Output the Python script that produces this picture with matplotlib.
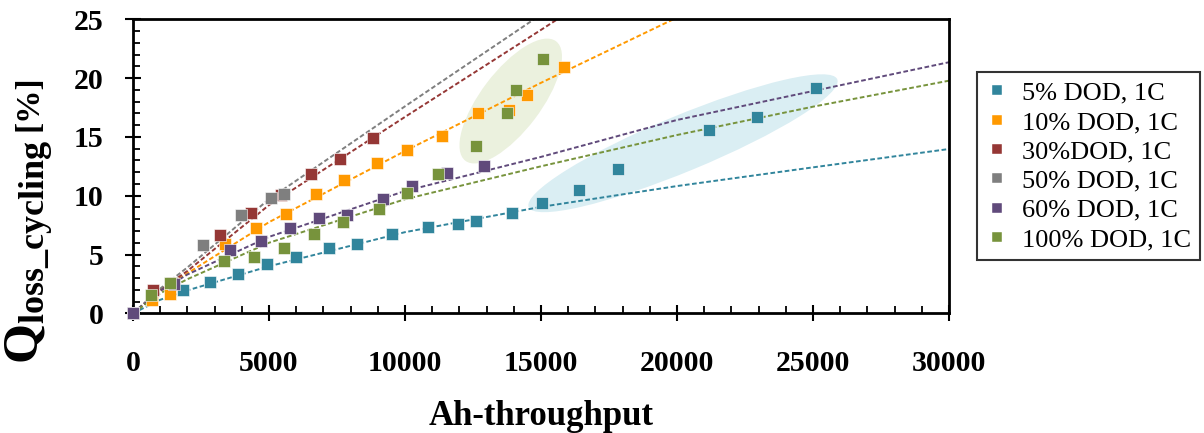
import matplotlib
matplotlib.use('Agg')
import matplotlib.pyplot as plt
from matplotlib.patches import Ellipse
from matplotlib.lines import Line2D
import matplotlib.transforms as mtrans

plt.rcParams['font.family'] = ['Liberation Serif', 'DejaVu Serif']
plt.rcParams['mathtext.fontset'] = 'custom'
plt.rcParams['mathtext.rm'] = 'Liberation Serif'
plt.rcParams['mathtext.bf'] = 'Liberation Serif:bold'
plt.rcParams['mathtext.it'] = 'Liberation Serif:italic'

# ---------------- data ----------------
labels = ['5% DOD, 1C', '10% DOD, 1C', '30%DOD, 1C', '50% DOD, 1C', '60% DOD, 1C', '100% DOD, 1C']
colors = ['#31859C', '#FF9900', '#953735', '#7F7F7F', '#604A7B', '#77933C']

dod5_x = [1827, 2831, 3871, 4926, 5982, 7206, 8235, 9511, 10857, 11960, 12610, 13923, 15037, 16397, 17849, 21176, 22952, 25121]
dod5_y = [1.98, 2.69, 3.32, 4.17, 4.76, 5.58, 5.92, 6.72, 7.36, 7.59, 7.87, 8.55, 9.40, 10.48, 12.24, 15.59, 16.72, 19.18]

dod10_x = [0, 687, 1359, 3391, 4519, 5610, 6712, 7752, 8975, 10077, 11352, 12700, 13824, 14486, 15834]
dod10_y = [0, 1.13, 1.62, 5.89, 7.23, 8.44, 10.17, 11.31, 12.76, 13.91, 15.10, 17.01, 17.29, 18.54, 20.94]

dod30_x = [0, 746, 1422, 3207, 4346, 5448, 6539, 7605, 8817]
dod30_y = [0, 1.98, 2.55, 6.66, 8.50, 10.06, 11.85, 13.15, 14.88]

dod50_x = [0, 2561, 3968, 5081, 5558]
dod50_y = [0, 5.81, 8.36, 9.78, 10.12]

dod60_x = [0, 1517, 3564, 4703, 5768, 6851, 7880, 9184, 10250, 11547, 12921]
dod60_y = [0, 2.49, 5.38, 6.17, 7.23, 8.08, 8.36, 9.72, 10.83, 11.90, 12.55]

dod100_x = [661, 1359, 3350, 4445, 5547, 6649, 7726, 9030, 10084, 11223, 12612, 13765, 14096, 15073]
dod100_y = [1.56, 2.60, 4.46, 4.76, 5.58, 6.72, 7.74, 8.87, 10.20, 11.84, 14.23, 17.01, 18.99, 21.60]

# dashed trend curves
fit_x_long = [0, 1000, 2000, 5000, 10000, 15000, 20000, 25000, 30000]
fit5_y = [0, 1.15, 1.95, 4.0, 6.9, 9.05, 10.82, 12.41, 13.97]
fit60_y = [0, 1.9, 3.3, 6.5, 10.4, 13.3, 16.44, 18.9, 21.35]
fit100_y = [0, 1.7, 2.9, 6.0, 9.7, 12.5, 15.16, 17.57, 19.78]
fit10_x = [0, 1000, 2000, 5000, 10000, 15000, 20000]
fit10_y = [0, 1.9, 3.4, 7.75, 13.8, 19.6, 25.15]
fit30_x = [0, 1000, 2000, 5000, 10000, 15000, 16000]
fit30_y = [0, 2.0, 3.6, 9.2, 16.7, 24.1, 25.6]
fit50_x = [0, 1000, 2000, 5000, 10000, 15000]
fit50_y = [0, 2.1, 3.9, 9.7, 17.6, 25.4]

series_x = [dod5_x, dod10_x, dod30_x, dod50_x, dod60_x, dod100_x]
series_y = [dod5_y, dod10_y, dod30_y, dod50_y, dod60_y, dod100_y]
fits_x = [fit_x_long, fit10_x, fit30_x, fit50_x, fit_x_long, fit_x_long]
fits_y = [fit5_y, fit10_y, fit30_y, fit50_y, fit60_y, fit100_y]

x_ticks = [0, 5000, 10000, 15000, 20000, 25000, 30000]
y_ticks = [0, 5, 10, 15, 20, 25]

# ---------------- figure ----------------
W, H = 1204, 433
fig = plt.figure(figsize=(W / 100, H / 100), dpi=100)
ax = fig.add_axes([133 / W, 1 - 313.3 / H, (949 - 133) / W, (313.3 - 19.3) / H])
ax.set_xlim(0, 30000)
ax.set_ylim(0, 25)

# highlight shapes
green_tr = fig.dpi_scale_trans + mtrans.ScaledTranslation(13887, 18.05, ax.transData)
ax.add_patch(Ellipse((0, 0), 1.50, 0.60, angle=52.8, transform=green_tr,
                     facecolor='#EBF1DE', edgecolor='none', zorder=0.5))
blue_tr = fig.dpi_scale_trans + mtrans.ScaledTranslation(20220, 14.46, ax.transData)
ax.add_patch(Ellipse((0, 0), 3.34, 0.56, angle=22.5, transform=blue_tr,
                     facecolor='#DAEEF3', edgecolor='none', zorder=0.5))

for fx, fy, c in zip(fits_x, fits_y, colors):
    ax.plot(fx, fy, linestyle=(0, (2.4, 1.3)), color=c, lw=1.4, zorder=2, clip_on=True)

for sx, sy, c in zip(series_x, series_y, colors):
    ax.plot(sx, sy, linestyle='none', marker='s', markersize=9, color=c,
            markeredgecolor='white', markeredgewidth=0.4, zorder=3, clip_on=False)

ax.set_xticks(x_ticks)
ax.set_yticks(y_ticks)
ax.set_xticks(range(0, 30001, 1000), minor=True)
ax.set_yticks(range(0, 26, 1), minor=True)
ax.tick_params(which='major', direction='inout', length=11.5, width=1.5, labelsize=21.5)
ax.tick_params(which='minor', direction='in', length=5, width=1.3)
ax.tick_params(axis='x', which='major', pad=21)
ax.tick_params(axis='y', which='major', pad=15.5)
for lab in ax.get_xticklabels() + ax.get_yticklabels():
    lab.set_fontweight('bold')
for sp in ax.spines.values():
    sp.set_linewidth(2.0)
    sp.set_color('black')

fig.text(541 / W, 1 - 425 / H, 'Ah-throughput', ha='center', va='baseline',
         fontsize=25, fontweight='bold')
# y label: large Q with subscript, then smaller [%]
fig.text(30 / W, 1 - 364 / H, r'$\mathbf{Q_{loss\_cycling}}$', rotation=90,
         ha='center', va='bottom', fontsize=37)
fig.text(29 / W, 1 - 75 / H, '[%]', rotation=90, ha='center', va='top',
         fontsize=24, fontweight='bold')

handles = [Line2D([], [], linestyle='none', marker='s', markersize=7, color=c,
                  markeredgecolor='white', markeredgewidth=0.3) for c in colors]
leg = ax.legend(handles, labels, loc='upper left', bbox_to_anchor=(977 / W, 1 - 72 / H),
                bbox_transform=fig.transFigure, borderaxespad=0, frameon=True,
                fancybox=False, prop={'family': 'Liberation Serif', 'size': 19},
                handlelength=0.8, handletextpad=0.55, labelspacing=0.22,
                borderpad=0.35, borderaxespad_=None) if False else ax.legend(
                handles, labels, loc='upper left', bbox_to_anchor=(977 / W, 1 - 72 / H),
                bbox_transform=fig.transFigure, borderaxespad=0, frameon=True,
                fancybox=False, prop={'family': 'Liberation Serif', 'size': 19},
                handlelength=0.8, handletextpad=0.55, labelspacing=0.22,
                borderpad=0.35)
leg.get_frame().set_edgecolor('black')
leg.get_frame().set_linewidth(1.5)

fig.savefig('out.png', dpi=100)
